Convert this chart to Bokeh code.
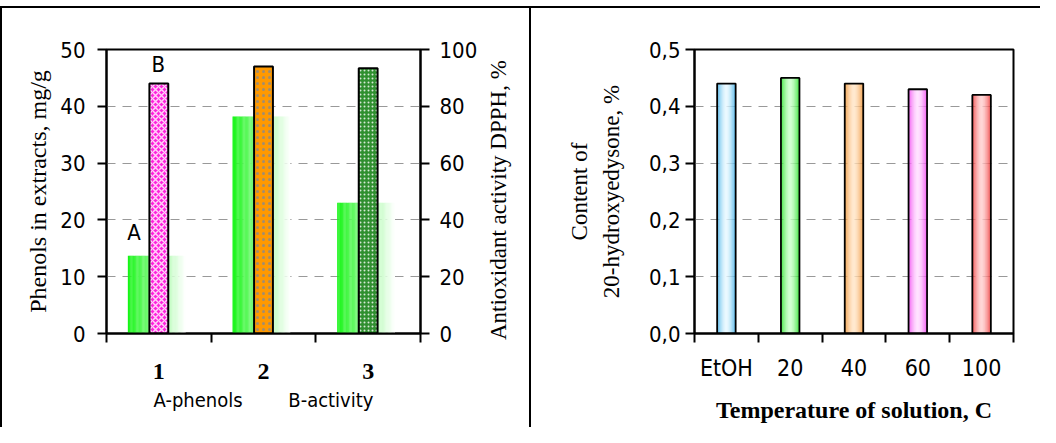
import math
from bokeh.plotting import figure
from bokeh.models import Range1d, LinearAxis, FixedTicker, Label, Div, CustomJSTickFormatter
from bokeh.layouts import row, column
from bokeh.embed import file_html
from bokeh.resources import INLINE

# ---------------- data ----------------
groups = ["1", "2", "3"]
phenols = [13.7, 38.2, 23.0]        # A - phenols, mg/g (left axis)
activity = [88.0, 94.0, 93.4]       # B - antioxidant activity DPPH, % (right axis)
left_ticks = [0, 10, 20, 30, 40, 50]
right_ticks = [0, 20, 40, 60, 80, 100]

temps = ["EtOH", "20", "40", "60", "100"]
content = [0.44, 0.45, 0.44, 0.43, 0.42]
content_ticks = [0.0, 0.1, 0.2, 0.3, 0.4, 0.5]

SANS = "DejaVu Sans Condensed, Liberation Sans, sans-serif"
SERIF = "Liberation Serif"


def hex2rgb(h):
    h = h.lstrip("#")
    return tuple(int(h[i:i + 2], 16) for i in (0, 2, 4))


def mix(c1, c2, t):
    a, b = hex2rgb(c1), hex2rgb(c2)
    return "#%02x%02x%02x" % tuple(int(round(a[i] + (b[i] - a[i]) * t)) for i in range(3))


def style_common(p):
    p.outline_line_color = "black"
    p.outline_line_width = 2
    p.background_fill_color = "white"
    p.border_fill_color = "white"
    p.xgrid.visible = False
    p.ygrid.grid_line_color = "#999999"
    p.ygrid.grid_line_dash = "9 7"
    p.ygrid.grid_line_width = 1


def style_axis(ax, font=SANS, size="22px"):
    ax.axis_line_color = "black"
    ax.axis_line_width = 2
    ax.major_tick_line_color = "black"
    ax.major_tick_line_width = 2
    ax.major_tick_out = 9
    ax.major_tick_in = 0
    ax.minor_tick_line_color = None
    ax.minor_tick_out = 0
    ax.minor_tick_in = 0
    ax.major_label_text_font = font
    ax.major_label_text_font_size = size
    ax.major_label_text_color = "black"
    ax.axis_label_text_color = "black"
    ax.axis_label_text_font_style = "normal"


H = 419
N = 48
TOP = 41
BOT = 94

# ---------------- left panel ----------------
p1 = figure(width=480, height=H, x_range=Range1d(0, len(groups)), y_range=Range1d(0, 50),
            output_backend="svg", toolbar_location=None,
            min_border_left=104, min_border_right=62, min_border_top=TOP, min_border_bottom=BOT)
style_common(p1)
p1.ygrid.ticker = FixedTicker(ticks=left_ticks[1:-1])
p1.extra_y_ranges = {"act": Range1d(0, 100)}

ly = p1.yaxis[0]
ly.ticker = FixedTicker(ticks=left_ticks)
style_axis(ly)
ly.major_label_standoff = 12
ly.axis_label = "Phenols in extracts, mg/g"
ly.axis_label_text_font = SERIF
ly.axis_label_text_font_size = "24px"
ly.axis_label_standoff = 6

ry = LinearAxis(y_range_name="act", ticker=FixedTicker(ticks=right_ticks))
style_axis(ry)
ry.major_label_standoff = 10
p1.add_layout(ry, "right")

bx = p1.xaxis[0]
style_axis(bx, font=SERIF, size="24px")
bx.ticker = FixedTicker(ticks=[i + 0.5 for i in range(len(groups))],
                        minor_ticks=list(range(len(groups) + 1)))
bx.major_label_overrides = {i + 0.5: g for i, g in enumerate(groups)}
bx.major_label_text_font_style = "bold"
bx.major_tick_out = 0
bx.major_tick_line_color = None
bx.minor_tick_line_color = "black"
bx.minor_tick_line_width = 2
bx.minor_tick_out = 9
bx.minor_tick_in = 0
bx.major_label_standoff = 21
bx.axis_label = "A-phenols\u00a0\u00a0\u00a0\u00a0\u00a0\u00a0\u00a0\u00a0B-activity"
bx.axis_label_text_font = SANS
bx.axis_label_text_font_size = "20px"
bx.axis_label_standoff = 6

# A bars: horizontal gradient green -> white
A_W = 0.55
ax_, at_, ac_ = [], [], []
for i, v in enumerate(phenols):
    c = i + 0.5 - 0.02
    for k in range(N):
        u = (k + 0.5) / N
        ax_.append(c - A_W / 2 + u * A_W)
        at_.append(v)
        ac_.append(mix("#11f511", "#ffffff", u ** 0.85))
p1.vbar(x=ax_, top=at_, bottom=0, width=A_W / N * 1.2, fill_color=ac_, line_color=None)

# B bars: patterned
p1.vbar(x=[i + 0.5 for i in range(len(groups))], top=activity, bottom=0, width=0.18,
        y_range_name="act",
        fill_color=["#ff22dd", "#ff9900", "#2f8f2f"],
        hatch_pattern=["x", ".", "."],
        hatch_color=["#ffffff", "#8a8a8a", "#ffffff"],
        hatch_scale=[6, 6, 4],
        hatch_weight=[1.5, 1.0, 1.0],
        hatch_alpha=0.8,
        line_color="black", line_width=2)

p1.add_layout(Label(x=0.264, y=phenols[0] + 4.0, text="A", text_align="center",
                    text_baseline="middle", text_font=SANS, text_font_size="22px",
                    text_color="black"))
p1.add_layout(Label(x=0.494, y=activity[0] + 6.6, y_range_name="act", text="B",
                    text_align="center", text_baseline="middle", text_font=SANS,
                    text_font_size="22px", text_color="black"))

# title strip for the right axis of the left panel (reads bottom to top)
pt = figure(width=47, height=H, x_range=Range1d(0, 1), y_range=Range1d(0, 100),
            output_backend="svg", toolbar_location=None, x_axis_location=None,
            min_border_left=25, min_border_right=0, min_border_top=TOP,
            min_border_bottom=BOT)
pt.outline_line_color = None
pt.grid.visible = False
pt.border_fill_color = "white"
tya = pt.yaxis[0]
tya.ticker = FixedTicker(ticks=[])
tya.axis_line_color = None
tya.major_tick_out = 0
tya.major_tick_in = 0
tya.minor_tick_line_color = None
tya.major_label_text_font_size = "1px"
tya.axis_label = "Antioxidant activity DPPH, %\u00a0\u00a0\u00a0"
tya.axis_label_text_font = SERIF
tya.axis_label_text_font_size = "23px"
tya.axis_label_text_font_style = "normal"
tya.axis_label_text_color = "black"
tya.axis_label_standoff = 0

# ---------------- right panel ----------------
p2 = figure(width=509, height=H, x_range=Range1d(0, len(temps)), y_range=Range1d(0, 0.5),
            output_backend="svg", toolbar_location=None,
            min_border_left=163, min_border_right=27, min_border_top=TOP, min_border_bottom=BOT)
style_common(p2)
p2.ygrid.ticker = FixedTicker(ticks=content_ticks[1:-1])

ly2 = p2.yaxis[0]
ly2.ticker = FixedTicker(ticks=content_ticks)
ly2.formatter = CustomJSTickFormatter(code="return tick.toFixed(1).replace('.', ',');")
style_axis(ly2)
ly2.major_label_standoff = 5
ly2.axis_label = "Content of\n20-hydroxyedysone, %"
ly2.axis_label_text_font = SERIF
ly2.axis_label_text_font_size = "23px"
ly2.axis_label_text_line_height = 1.3
ly2.axis_label_standoff = 22

bx2 = p2.xaxis[0]
style_axis(bx2, size="23px")
bx2.ticker = FixedTicker(ticks=[i + 0.5 for i in range(len(temps))],
                         minor_ticks=list(range(len(temps) + 1)))
bx2.major_label_overrides = {i + 0.5: t for i, t in enumerate(temps)}
bx2.major_tick_out = 0
bx2.major_tick_line_color = None
bx2.minor_tick_line_color = "black"
bx2.minor_tick_line_width = 2
bx2.minor_tick_out = 9
bx2.minor_tick_in = 0
bx2.major_label_standoff = 12
bx2.axis_label = "Temperature of solution, C"
bx2.axis_label_text_font = SERIF
bx2.axis_label_text_font_size = "24px"
bx2.axis_label_text_font_style = "bold"
bx2.axis_label_standoff = 13

edge_cols = ["#2ea8e6", "#11dd11", "#f08a22", "#f033f0", "#ee2a2a"]
mid_cols = ["#e6f8ff", "#c8ffc8", "#ffe4c4", "#ffdcff", "#ffcccc"]
B_W = 0.29
gx, gt, gc = [], [], []
for i, v in enumerate(content):
    c = i + 0.5
    for k in range(N):
        u = (k + 0.5) / N
        t = abs(2 * u - 1) ** 1.6
        gx.append(c - B_W / 2 + u * B_W)
        gt.append(v)
        gc.append(mix(mid_cols[i], edge_cols[i], t))
p2.vbar(x=gx, top=gt, bottom=0, width=B_W / N * 1.2, fill_color=gc, line_color=None)
p2.vbar(x=[i + 0.5 for i in range(len(temps))], top=content, bottom=0, width=B_W,
        fill_color=None, line_color="black", line_width=1.8)

# ---------------- frame & layout ----------------
def bar_div(w, h, color):
    return Div(width=w, height=h, margin=(0, 0, 0, 0),
               styles={"background-color": color})

top_gap = bar_div(1040, 6, "white")
top_line = bar_div(1040, 2, "black")
left_line = bar_div(2, H, "black")
mid_line = bar_div(2, H, "black")

layout = column(top_gap, top_line, row(left_line, p1, pt, mid_line, p2, spacing=0), spacing=0)

open("out.html", "w").write(file_html(layout, INLINE))
